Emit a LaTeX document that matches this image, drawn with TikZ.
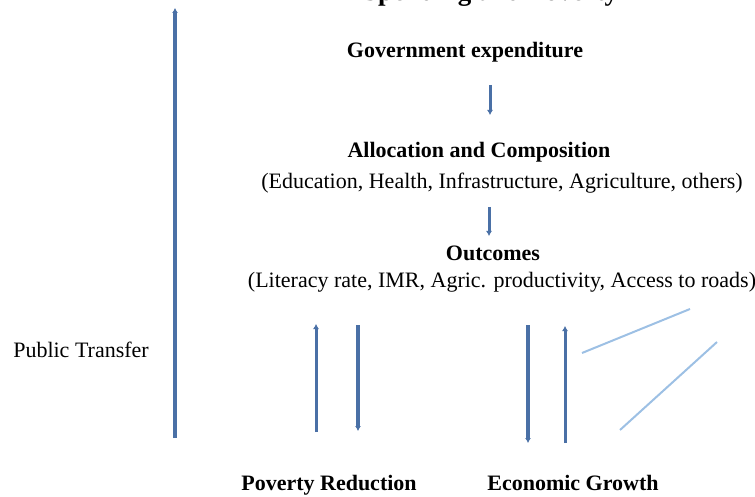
\documentclass[tikz,border=0pt]{standalone}
\usepackage{fontspec}
\setmainfont{Liberation Serif}
\usetikzlibrary{arrows.meta}
\definecolor{flowblue}{RGB}{74,112,166}
\definecolor{linkblue}{RGB}{157,192,228}

\begin{document}
\begin{tikzpicture}[x=1pt, y=-1pt,
    head/.style={font=\fontsize{22}{26}\selectfont\bfseries, inner sep=2pt},
    body/.style={font=\fontsize{22}{26}\selectfont, inner sep=2pt},
    flow/.style={draw=flowblue, line width=3pt, -{Latex[length=5pt,width=6pt]}},
    link/.style={draw=linkblue, line width=2pt}]
    \useasboundingbox (0,0) rectangle (755,497);
    % title runs off the top edge, only its descenders show
    \node[font=\fontsize{27}{30}\selectfont\bfseries, anchor=base west, inner sep=0pt] (title) at (363,1) {Spending and Poverty};
    % chain of boxes
    \node[head] (gov) at (465,52) {Government expenditure};
    \node[head] (alloc) at (479,152) {Allocation and Composition};
    \node[body] (alloclist) at (502,183) {(Education, Health, Infrastructure, Agriculture, others)};
    \node[head] (out) at (493,253) {Outcomes};
    \node[body] (outlist) at (502,282) {(Literacy rate, IMR, Agric. productivity, Access to roads)};
    \node[head, anchor=base] (pov) at (329,490) {Poverty Reduction};
    \node[head, anchor=base] (econ) at (573,490) {Economic Growth};
    \node[body] (trans) at (81,350) {Public Transfer};
    % arrow ends
    \coordinate (t0) at (175,438);
    \coordinate (t1) at (175,8);
    \coordinate (g0) at (490,85);
    \coordinate (g1) at (490,115);
    \coordinate (a0) at (489,207);
    \coordinate (a1) at (489,236);
    \coordinate (p0) at (316,432);
    \coordinate (p1) at (316,324);
    \coordinate (p2) at (358,325);
    \coordinate (p3) at (358,431);
    \coordinate (e0) at (528,325);
    \coordinate (e1) at (528,443);
    \coordinate (e2) at (565,443);
    \coordinate (e3) at (565,326);
    \coordinate (l0) at (582,353);
    \coordinate (l1) at (690,309);
    \coordinate (l2) at (620,430);
    \coordinate (l3) at (717,342);
    \draw[flow, line width=4pt] (t0) -- (t1);
    \draw[flow] (g0) -- (g1);
    \draw[flow] (a0) -- (a1);
    \draw[flow] (p0) -- (p1);
    \draw[flow, line width=3.5pt] (p2) -- (p3);
    \draw[flow, line width=3.5pt] (e0) -- (e1);
    \draw[flow] (e2) -- (e3);
    \draw[link] (l0) -- (l1);
    \draw[link] (l2) -- (l3);
\end{tikzpicture}
\end{document}
